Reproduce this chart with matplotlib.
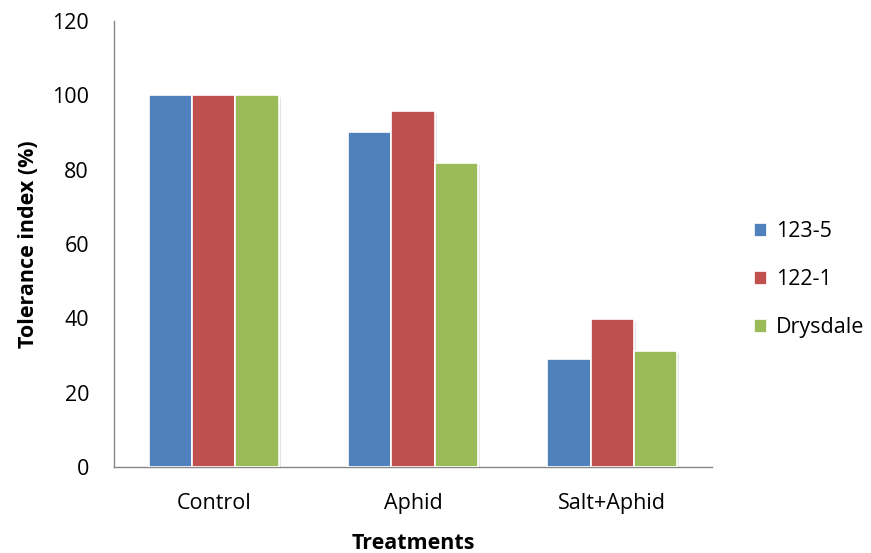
import matplotlib
matplotlib.use("Agg")
import matplotlib.pyplot as plt
import matplotlib.patheffects as pe
from matplotlib.patches import Patch
import numpy as np

plt.rcParams['font.family'] = ['Open Sans', 'DejaVu Sans']

categories = ["Control", "Aphid", "Salt+Aphid"]
series_names = ["123-5", "122-1", "Drysdale"]
values_123_5 = [100, 90.2, 29.0]
values_122_1 = [100, 95.8, 39.7]
values_drysdale = [100, 81.9, 31.3]
colors = ["#4F81BD", "#C0504D", "#9BBB59"]

FS = 15.5

fig = plt.figure(figsize=(8.71, 5.53), dpi=100)
ax = fig.add_axes([0.1309, 0.1555, 0.6866, 0.8065])

x = np.arange(len(categories))
width = 0.217
shadow = [pe.SimplePatchShadow(offset=(1.5, -1.5), shadow_rgbFace='#000000', alpha=0.10), pe.Normal()]
for i, (vals, c) in enumerate(zip([values_123_5, values_122_1, values_drysdale], colors)):
    bars = ax.bar(x + (i - 1) * width, vals, width, color=c, edgecolor='white',
                  linewidth=1.2, zorder=3)
    for b in bars:
        b.set_path_effects(shadow)

ax.set_xlim(-0.5, 2.5)
ax.set_ylim(0, 120)
ax.set_yticks(range(0, 121, 20))
ax.set_xticks(x)
ax.set_xticklabels(categories)
ax.tick_params(axis='both', length=0, labelsize=FS, colors='black')
ax.tick_params(axis='y', pad=18)
ax.tick_params(axis='x', pad=19)

for side in ['top', 'right']:
    ax.spines[side].set_visible(False)
for side in ['left', 'bottom']:
    ax.spines[side].set_color('#868686')
    ax.spines[side].set_linewidth(1.0)

ax.set_ylabel("Tolerance index (%)", fontsize=FS, fontweight='bold')
ax.set_xlabel("Treatments", fontsize=FS, fontweight='bold')
ax.yaxis.set_label_coords(-0.126, 0.5)
ax.xaxis.set_label_coords(0.5, -0.148)

handles = [Patch(facecolor=c, edgecolor='white', linewidth=0.5) for c in colors]
fig.legend(handles, series_names, loc='center left', bbox_to_anchor=(0.856, 0.495),
           frameon=False, fontsize=FS, handlelength=0.55, handleheight=0.55,
           handletextpad=0.45, labelspacing=1.26, borderaxespad=0)

fig.savefig("out.png", dpi=100, facecolor='white')
